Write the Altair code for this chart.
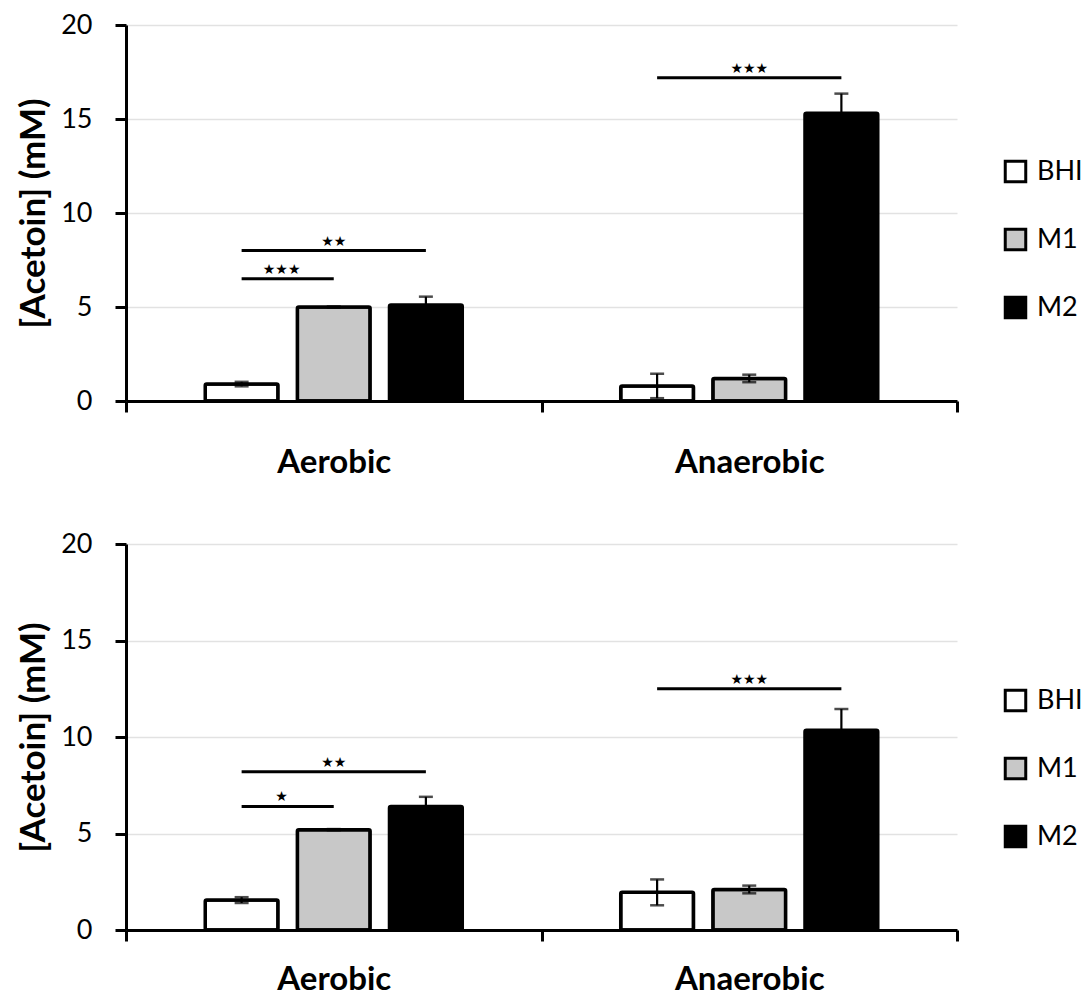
import altair as alt
import pandas as pd

conditions = ["Aerobic", "Anaerobic"]
media = ["BHI", "M1", "M2"]
fills = ["#ffffff", "#c8c8c8", "#000000"]

# bar order: Aerobic BHI, M1, M2, Anaerobic BHI, M1, M2
top_means = [0.9, 5.0, 5.1, 0.8, 1.2, 15.3]
top_errs = [0.12, 0.03, 0.45, 0.65, 0.2, 1.05]
bottom_means = [1.55, 5.2, 6.4, 1.95, 2.1, 10.35]
bottom_errs = [0.15, 0.03, 0.5, 0.67, 0.2, 1.1]

# significance brackets
top_sig_cond = ["Aerobic", "Aerobic", "Anaerobic"]
top_sig_from = ["BHI", "BHI", "BHI"]
top_sig_to = ["M1", "M2", "M2"]
top_sig_y = [6.5, 8.0, 17.2]
top_sig_label = ["★★★", "★★", "★★★"]

bottom_sig_cond = ["Aerobic", "Aerobic", "Anaerobic"]
bottom_sig_from = ["BHI", "BHI", "BHI"]
bottom_sig_to = ["M1", "M2", "M2"]
bottom_sig_y = [6.4, 8.2, 12.5]
bottom_sig_label = ["★", "★★", "★★★"]

FONT = "Lato"


def bars_table(means, errs):
    rows = []
    i = 0
    for c in conditions:
        for m in media:
            rows.append({"condition": c, "medium": m, "mean": means[i],
                         "lo": means[i] - errs[i], "hi": means[i] + errs[i]})
            i += 1
    return pd.DataFrame(rows)


def sig_tables(conds, froms, tos, ys, labels):
    lines, texts = [], []
    for k, (c, f, t, yv, lab) in enumerate(zip(conds, froms, tos, ys, labels)):
        lines.append({"id": k, "condition": c, "medium": f, "y": yv})
        lines.append({"id": k, "condition": c, "medium": t, "y": yv})
        pair = media.index(t) - media.index(f) == 1
        mid = f if pair else media[media.index(f) + 1]
        texts.append({"condition": c, "medium": mid, "y": yv, "label": lab, "pair": pair})
    return pd.DataFrame(lines), pd.DataFrame(texts)


def panel(means, errs, sig, height, label_pad, legend_y):
    bars = bars_table(means, errs)
    lines, texts = sig_tables(*sig)

    x = alt.X("condition:N", sort=conditions,
              scale=alt.Scale(domain=conditions, paddingInner=0, paddingOuter=0),
              axis=alt.Axis(title=None, labelAngle=0, tickBand="extent", labelPadding=label_pad,
                            labelFontSize=33, labelFontWeight="bold", grid=False))
    xo = alt.XOffset("medium:N", sort=media,
                     scale=alt.Scale(domain=media, paddingInner=0.21, paddingOuter=0.86))
    yaxis = alt.Axis(values=[0, 5, 10, 15, 20], title="[Acetoin] (mM)", grid=True,
                     labelFontSize=27, labelPadding=23, titleFontSize=35,
                     titleFontWeight="bold", titlePadding=9)
    yscale = alt.Scale(domain=[0, 20], nice=False, zero=True)

    def Y(field):
        return alt.Y(field, scale=yscale, axis=yaxis)

    bar = alt.Chart(bars).mark_bar(stroke="black", strokeWidth=3.5, cornerRadius=1.5).encode(
        x=x, xOffset=xo, y=Y("mean:Q"),
        fill=alt.Fill("medium:N", sort=media, scale=alt.Scale(domain=media, range=fills),
                      legend=alt.Legend(title=None, orient="none", legendX=876, legendY=legend_y,
                                        symbolType="square", symbolSize=420,
                                        symbolStrokeColor="black", symbolStrokeWidth=3,
                                        labelFontSize=27, labelFont=FONT, labelColor="black",
                                        rowPadding=35, labelOffset=8, padding=0)),
    )
    err = alt.Chart(bars).mark_rule(color="black", strokeWidth=2.2).encode(
        x=x, xOffset=xo, y=Y("lo:Q"), y2="hi:Q")
    cap_hi = alt.Chart(bars).mark_tick(color="black", thickness=2.5, size=14).encode(
        x=x, xOffset=xo, y=Y("hi:Q"))
    cap_lo = alt.Chart(bars).mark_tick(color="black", thickness=2.5, size=14).encode(
        x=x, xOffset=xo, y=Y("lo:Q"))
    sig_line = alt.Chart(lines).mark_line(color="black", strokeWidth=3).encode(
        x=x, xOffset=xo, y=Y("y:Q"), detail="id:N")
    txt_mid = alt.Chart(texts).transform_filter("!datum.pair").mark_text(
        font="DejaVu Sans", fontSize=14, baseline="bottom", dy=-2, color="black").encode(
        x=x, xOffset=xo, y=Y("y:Q"), text="label:N")
    txt_pair = alt.Chart(texts).transform_filter("datum.pair").mark_text(
        font="DejaVu Sans", fontSize=14, baseline="bottom", dy=-2, dx=40, color="black").encode(
        x=x, xOffset=xo, y=Y("y:Q"), text="label:N")

    return alt.layer(bar, err, cap_hi, cap_lo, sig_line, txt_mid, txt_pair).properties(
        width=831, height=height)


top = panel(top_means, top_errs,
            (top_sig_cond, top_sig_from, top_sig_to, top_sig_y, top_sig_label),
            376, 34, 133)
bottom = panel(bottom_means, bottom_errs,
               (bottom_sig_cond, bottom_sig_from, bottom_sig_to, bottom_sig_y, bottom_sig_label),
               386, 22, 143)

chart = alt.vconcat(top, bottom, spacing=51).resolve_scale(fill="independent").resolve_legend(
    fill="independent"
).properties(
    padding={"left": 8, "top": 3, "right": 0, "bottom": 0}
).configure(font=FONT).configure_view(stroke=None).configure_axis(
    labelFont=FONT, titleFont=FONT, labelColor="black", titleColor="black",
    domainColor="black", domainWidth=3, tickColor="black", tickWidth=3, tickSize=11,
    gridColor="#e2e2e2", gridWidth=1.5,
)

chart.save("out.html", embed_options={"renderer": "svg", "actions": False})
